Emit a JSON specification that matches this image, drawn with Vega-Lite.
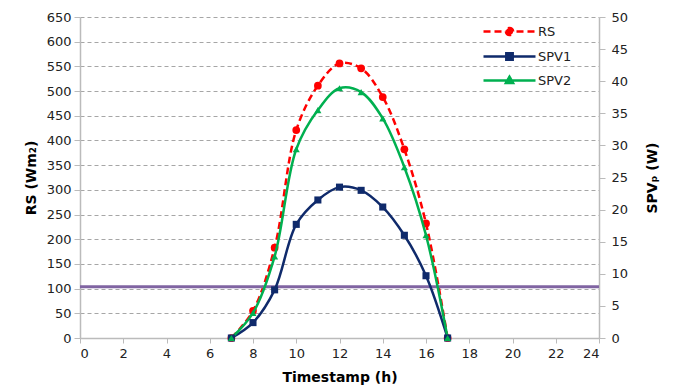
{
  "$schema": "https://vega.github.io/schema/vega-lite/v6.json",
  "width": 519,
  "height": 321,
  "autosize": {"type": "none"},
  "padding": {"left": 80, "top": 17, "right": 74, "bottom": 49},
  "background": "white",
  "config": {
    "view": {"stroke": null},
    "font": "DejaVu Sans",
    "axis": {
      "labelFont": "DejaVu Sans",
      "labelFontSize": 13,
      "labelColor": "#222222",
      "titleFont": "DejaVu Sans",
      "titleFontSize": 14,
      "titleFontWeight": "bold",
      "titleColor": "#000000",
      "domainColor": "#BBBBBB",
      "domainWidth": 1.5,
      "tickColor": "#BBBBBB",
      "tickWidth": 1,
      "tickSize": 6,
      "labelPadding": 3,
      "labelOverlap": false
    }
  },
  "datasets": {
    "rs": [
      {"hour": 7, "series": "RS", "value": 0},
      {"hour": 8, "series": "RS", "value": 55},
      {"hour": 9, "series": "RS", "value": 183},
      {"hour": 10, "series": "RS", "value": 421},
      {"hour": 11, "series": "RS", "value": 511},
      {"hour": 12, "series": "RS", "value": 556},
      {"hour": 13, "series": "RS", "value": 546},
      {"hour": 14, "series": "RS", "value": 488},
      {"hour": 15, "series": "RS", "value": 382},
      {"hour": 16, "series": "RS", "value": 232},
      {"hour": 17, "series": "RS", "value": 0}
    ],
    "spv": [
      {"hour": 7, "series": "SPV1", "value": 0},
      {"hour": 8, "series": "SPV1", "value": 2.4},
      {"hour": 9, "series": "SPV1", "value": 7.5},
      {"hour": 10, "series": "SPV1", "value": 17.7},
      {"hour": 11, "series": "SPV1", "value": 21.5},
      {"hour": 12, "series": "SPV1", "value": 23.5},
      {"hour": 13, "series": "SPV1", "value": 23.0},
      {"hour": 14, "series": "SPV1", "value": 20.4},
      {"hour": 15, "series": "SPV1", "value": 16.0},
      {"hour": 16, "series": "SPV1", "value": 9.7},
      {"hour": 17, "series": "SPV1", "value": 0},
      {"hour": 7, "series": "SPV2", "value": 0},
      {"hour": 8, "series": "SPV2", "value": 3.9},
      {"hour": 9, "series": "SPV2", "value": 12.7},
      {"hour": 10, "series": "SPV2", "value": 29.4},
      {"hour": 11, "series": "SPV2", "value": 35.5},
      {"hour": 12, "series": "SPV2", "value": 38.9},
      {"hour": 13, "series": "SPV2", "value": 38.3},
      {"hour": 14, "series": "SPV2", "value": 34.2},
      {"hour": 15, "series": "SPV2", "value": 26.6},
      {"hour": 16, "series": "SPV2", "value": 16.0},
      {"hour": 17, "series": "SPV2", "value": 0}
    ],
    "limit": [{"level": 8}]
  },
  "layer": [
    {
      "layer": [
        {
          "data": {"name": "rs"},
          "mark": {"type": "line", "interpolate": "catmull-rom", "strokeWidth": 2.5, "strokeDash": [7, 4]},
          "encoding": {
            "x": {
              "field": "hour", "type": "quantitative",
              "scale": {"domain": [0, 24]},
              "axis": {"title": "Timestamp (h)", "values": [0, 2, 4, 6, 8, 10, 12, 14, 16, 18, 20, 22, 24], "grid": false, "tickSize": 5, "labelPadding": 4, "titlePadding": 10}
            },
            "y": {
              "field": "value", "type": "quantitative",
              "scale": {"domain": [0, 650], "nice": false},
              "axis": {"orient": "left", "title": "RS (Wm₂)", "values": [0, 50, 100, 150, 200, 250, 300, 350, 400, 450, 500, 550, 600, 650], "grid": true, "gridDash": [4, 3], "gridColor": "#A6A6A6", "gridWidth": 1, "titlePadding": 8}
            },
            "color": {
              "field": "series", "type": "nominal",
              "scale": {"domain": ["RS", "SPV1", "SPV2"], "range": ["#FF0000", "#0F2A6B", "#00B050"]},
              "legend": {
                "title": null,
                "orient": "none",
                "legendX": 418,
                "legendY": 3,
                "padding": 0,
                "symbolSize": 400,
                "rowPadding": 4,
                "labelOffset": 17,
                "labelFont": "DejaVu Sans",
                "labelFontSize": 13,
                "labelColor": "#222222",
                "encode": {
                  "symbols": {
                    "update": {
                      "shape": {"signal": "datum.value === 'RS' ? 'M-2.6,0H2.6M-0.36,0A0.36,0.36 0 1,0 0.36,0A0.36,0.36 0 1,0 -0.36,0Z' : datum.value === 'SPV1' ? 'M-2.6,0H2.6M-0.32,-0.32H0.32V0.32H-0.32Z' : 'M-2.6,0H2.6M0,-0.38L0.36,0.26L-0.36,0.26Z'"},
                      "fill": {"scale": "color", "field": "value"},
                      "stroke": {"scale": "color", "field": "value"},
                      "strokeDash": {"signal": "datum.value === 'RS' ? [7, 4] : [1, 0]"},
                      "strokeWidth": {"value": 2.5},
                      "opacity": {"value": 1},
                      "fillOpacity": {"value": 1}
                    }
                  }
                }
              }
            }
          }
        },
        {
          "data": {"name": "rs"},
          "mark": {"type": "point", "filled": true, "opacity": 1, "size": 60, "shape": "circle"},
          "encoding": {
            "x": {
              "field": "hour", "type": "quantitative",
              "scale": {"domain": [0, 24]},
              "axis": {"title": "Timestamp (h)", "values": [0, 2, 4, 6, 8, 10, 12, 14, 16, 18, 20, 22, 24], "grid": false, "tickSize": 5, "labelPadding": 4, "titlePadding": 10}
            },
            "y": {
              "field": "value", "type": "quantitative",
              "scale": {"domain": [0, 650], "nice": false},
              "axis": {"orient": "left", "title": "RS (Wm₂)", "values": [0, 50, 100, 150, 200, 250, 300, 350, 400, 450, 500, 550, 600, 650], "grid": true, "gridDash": [4, 3], "gridColor": "#A6A6A6", "gridWidth": 1, "titlePadding": 8}
            },
            "color": {"field": "series", "type": "nominal", "legend": null}
          }
        }
      ]
    },
    {
      "layer": [
        {
          "data": {"name": "limit"},
          "mark": {"type": "rule", "color": "#8064A2", "strokeWidth": 3},
          "encoding": {
            "y": {
              "field": "level", "type": "quantitative",
              "scale": {"domain": [0, 50], "nice": false},
              "axis": {"orient": "right", "title": "SPVₚ (W)", "titleAngle": -90, "values": [0, 5, 10, 15, 20, 25, 30, 35, 40, 45, 50], "grid": false, "labelPadding": 6, "titlePadding": 32}
            }
          }
        },
        {
          "data": {"name": "spv"},
          "mark": {"type": "line", "interpolate": "catmull-rom", "strokeWidth": 2.5},
          "encoding": {
            "x": {
              "field": "hour", "type": "quantitative",
              "scale": {"domain": [0, 24]},
              "axis": {"title": "Timestamp (h)", "values": [0, 2, 4, 6, 8, 10, 12, 14, 16, 18, 20, 22, 24], "grid": false, "tickSize": 5, "labelPadding": 4, "titlePadding": 10}
            },
            "y": {
              "field": "value", "type": "quantitative",
              "scale": {"domain": [0, 50], "nice": false},
              "axis": {"orient": "right", "title": "SPVₚ (W)", "titleAngle": -90, "values": [0, 5, 10, 15, 20, 25, 30, 35, 40, 45, 50], "grid": false, "labelPadding": 6, "titlePadding": 32}
            },
            "color": {"field": "series", "type": "nominal", "legend": null}
          }
        },
        {
          "data": {"name": "spv"},
          "transform": [{"filter": "datum.series === 'SPV1'"}],
          "mark": {"type": "point", "filled": true, "opacity": 1, "size": 50, "shape": "square"},
          "encoding": {
            "x": {
              "field": "hour", "type": "quantitative",
              "scale": {"domain": [0, 24]},
              "axis": {"title": "Timestamp (h)", "values": [0, 2, 4, 6, 8, 10, 12, 14, 16, 18, 20, 22, 24], "grid": false, "tickSize": 5, "labelPadding": 4, "titlePadding": 10}
            },
            "y": {
              "field": "value", "type": "quantitative",
              "scale": {"domain": [0, 50], "nice": false},
              "axis": {"orient": "right", "title": "SPVₚ (W)", "titleAngle": -90, "values": [0, 5, 10, 15, 20, 25, 30, 35, 40, 45, 50], "grid": false, "labelPadding": 6, "titlePadding": 32}
            },
            "color": {"field": "series", "type": "nominal", "legend": null}
          }
        },
        {
          "data": {"name": "spv"},
          "transform": [{"filter": "datum.series === 'SPV2'"}],
          "mark": {"type": "point", "filled": true, "opacity": 1, "size": 50, "shape": "triangle-up"},
          "encoding": {
            "x": {
              "field": "hour", "type": "quantitative",
              "scale": {"domain": [0, 24]},
              "axis": {"title": "Timestamp (h)", "values": [0, 2, 4, 6, 8, 10, 12, 14, 16, 18, 20, 22, 24], "grid": false, "tickSize": 5, "labelPadding": 4, "titlePadding": 10}
            },
            "y": {
              "field": "value", "type": "quantitative",
              "scale": {"domain": [0, 50], "nice": false},
              "axis": {"orient": "right", "title": "SPVₚ (W)", "titleAngle": -90, "values": [0, 5, 10, 15, 20, 25, 30, 35, 40, 45, 50], "grid": false, "labelPadding": 6, "titlePadding": 32}
            },
            "color": {"field": "series", "type": "nominal", "legend": null}
          }
        }
      ]
    }
  ],
  "resolve": {"scale": {"y": "independent"}}
}
